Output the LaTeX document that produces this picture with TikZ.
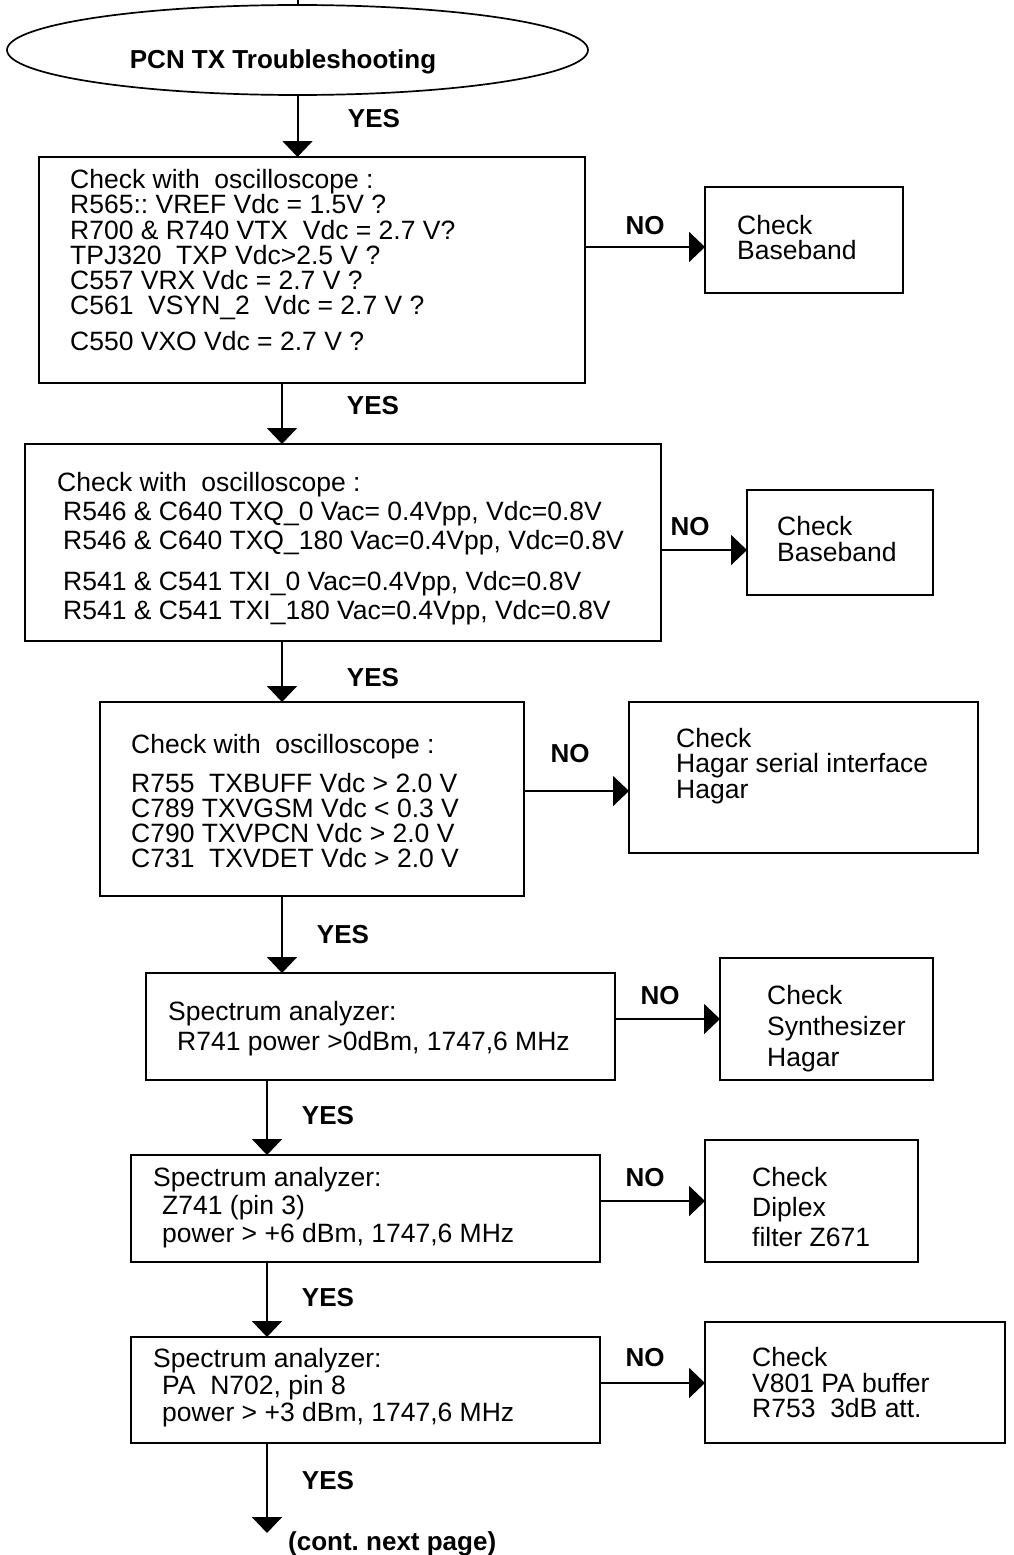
\documentclass[tikz,border=0pt]{standalone}
\usepackage{fontspec}
\setmainfont{Liberation Sans}
\usetikzlibrary{arrows.meta,shapes.geometric}
\frenchspacing
\begin{document}
\begin{tikzpicture}[x=1pt,y=-1pt,
  box/.style={draw, line width=2pt, rectangle, inner sep=0pt, outer sep=0pt, anchor=north west},
  txt/.style={anchor=base west, inner sep=0pt, font=\fontsize{26.5}{26.5}\selectfont},
  lbl/.style={anchor=base, inner sep=0pt, font=\fontsize{26}{26}\selectfont\bfseries},
  lblw/.style={anchor=base west, inner sep=0pt, font=\fontsize{26}{26}\selectfont\bfseries},
  arr/.style={line width=2pt, -{Triangle[width=30pt,length=16pt]}},
  wire/.style={line width=2pt}]
\useasboundingbox (0,0) rectangle (1013,1555);

% start ellipse
\node[draw, ellipse, line width=1.7pt, minimum width=581pt, minimum height=90pt,
      inner sep=0pt, outer sep=0pt] (start) at (297.5,50) {};
\node[lbl] (title) at (283,69) {PCN TX Troubleshooting};
\coordinate (top) at (297.5,0);
\draw[wire] (start.north) -- (top);

% main column of checks
\node[box, minimum width=546pt, minimum height=226pt] (b1) at (39,157) {};
\node[box, minimum width=636pt, minimum height=197pt] (b2) at (25,444) {};
\node[box, minimum width=424pt, minimum height=194pt] (b3) at (100,702) {};
\node[box, minimum width=469pt, minimum height=107pt] (b4) at (146,973) {};
\node[box, minimum width=469pt, minimum height=107pt] (b5) at (131,1155) {};
\node[box, minimum width=469pt, minimum height=106pt] (b6) at (131,1337) {};

% fault boxes on the right
\node[box, minimum width=198pt, minimum height=106pt] (r1) at (705,187) {};
\node[box, minimum width=186pt, minimum height=105pt] (r2) at (747,490) {};
\node[box, minimum width=349pt, minimum height=151pt] (r3) at (629,702) {};
\node[box, minimum width=213pt, minimum height=122pt] (r4) at (720,958) {};
\node[box, minimum width=213pt, minimum height=122pt] (r5) at (705,1140) {};
\node[box, minimum width=300pt, minimum height=121pt] (r6) at (705,1322) {};

% box texts
\node[txt] (b1a) at (70,188) {Check with\ \ oscilloscope :};
\node[txt] (b1b) at (70,213) {R565:: VREF Vdc = 1.5V ?};
\node[txt] (b1c) at (70,239) {R700 \& R740 VTX\ \ Vdc = 2.7 V?};
\node[txt] (b1d) at (70,264) {TPJ320\ \ TXP Vdc>2.5 V ?};
\node[txt] (b1e) at (70,289) {C557 VRX Vdc = 2.7 V ?};
\node[txt] (b1f) at (70,314) {C561\ \ VSYN\_2\ \ Vdc = 2.7 V ?};
\node[txt] (b1g) at (70,350) {C550 VXO Vdc = 2.7 V ?};

\node[txt] (b2a) at (57,491) {Check with\ \ oscilloscope :};
\node[txt] (b2b) at (63,520) {R546 \& C640 TXQ\_0 Vac= 0.4Vpp, Vdc=0.8V};
\node[txt] (b2c) at (63,549) {R546 \& C640 TXQ\_180 Vac=0.4Vpp, Vdc=0.8V};
\node[txt] (b2d) at (63,590) {R541 \& C541 TXI\_0 Vac=0.4Vpp, Vdc=0.8V};
\node[txt] (b2e) at (63,619) {R541 \& C541 TXI\_180 Vac=0.4Vpp, Vdc=0.8V};

\node[txt] (b3a) at (131,753) {Check with\ \ oscilloscope :};
\node[txt] (b3b) at (131,792) {R755\ \ TXBUFF Vdc > 2.0 V};
\node[txt] (b3c) at (131,817) {C789 TXVGSM Vdc < 0.3 V};
\node[txt] (b3d) at (131,842) {C790 TXVPCN Vdc > 2.0 V};
\node[txt] (b3e) at (131,867) {C731\ \ TXVDET Vdc > 2.0 V};

\node[txt] (b4a) at (168,1020) {Spectrum analyzer:};
\node[txt] (b4b) at (177,1050) {R741 power >0dBm, 1747,6 MHz};

\node[txt] (b5a) at (153,1186) {Spectrum analyzer:};
\node[txt] (b5b) at (162,1214) {Z741 (pin 3)};
\node[txt] (b5c) at (162,1242) {power > +6 dBm, 1747,6 MHz};

\node[txt] (b6a) at (153,1367) {Spectrum analyzer:};
\node[txt] (b6b) at (162,1394) {PA\ \ N702, pin 8};
\node[txt] (b6c) at (162,1421) {power > +3 dBm, 1747,6 MHz};

\node[txt] (r1a) at (737,234) {Check};
\node[txt] (r1b) at (737,259) {Baseband};
\node[txt] (r2a) at (777,535) {Check};
\node[txt] (r2b) at (777,561) {Baseband};
\node[txt] (r3a) at (676,747) {Check};
\node[txt] (r3b) at (676,772) {Hagar serial interface};
\node[txt] (r3c) at (676,798) {Hagar};
\node[txt] (r4a) at (767,1004) {Check};
\node[txt] (r4b) at (767,1035) {Synthesizer};
\node[txt] (r4c) at (767,1066) {Hagar};
\node[txt] (r5a) at (752,1186) {Check};
\node[txt] (r5b) at (752,1216) {Diplex};
\node[txt] (r5c) at (752,1246) {filter Z671};
\node[txt] (r6a) at (752,1366) {Check};
\node[txt] (r6b) at (752,1392) {V801 PA buffer};
\node[txt] (r6c) at (752,1417) {R753\ \ 3dB att.};

% YES path
\coordinate (xa) at (282,0);
\coordinate (xb) at (267,0);
\coordinate (cont) at (267,1533);
\draw[arr] (start.south) -- (start.south |- b1.north);
\draw[arr] (b1.south -| xa) -- (b2.north -| xa);
\draw[arr] (b2.south -| xa) -- (b3.north -| xa);
\draw[arr] (b3.south -| xa) -- (b4.north -| xa);
\draw[arr] (b4.south -| xb) -- (b5.north -| xb);
\draw[arr] (b5.south -| xb) -- (b6.north -| xb);
\draw[arr] (b6.south -| xb) -- (cont);

\node[lbl] (y1) at (374,127) {YES};
\node[lbl] (y2) at (373,414) {YES};
\node[lbl] (y3) at (373,686) {YES};
\node[lbl] (y4) at (343,943) {YES};
\node[lbl] (y5) at (328,1124) {YES};
\node[lbl] (y6) at (328,1306) {YES};
\node[lbl] (y7) at (328,1489) {YES};
\node[lblw] (next) at (288,1550) {(cont. next page)};

% NO branches
\coordinate (n1) at (0,247);
\coordinate (n2) at (0,550);
\coordinate (n3) at (0,791);
\coordinate (n4) at (0,1019);
\coordinate (n5) at (0,1201);
\coordinate (n6) at (0,1383);
\draw[arr] (b1.east |- n1) -- (r1.west |- n1);
\draw[arr] (b2.east |- n2) -- (r2.west |- n2);
\draw[arr] (b3.east |- n3) -- (r3.west |- n3);
\draw[arr] (b4.east |- n4) -- (r4.west |- n4);
\draw[arr] (b5.east |- n5) -- (r5.west |- n5);
\draw[arr] (b6.east |- n6) -- (r6.west |- n6);

\node[lbl] (no1) at (645,234) {NO};
\node[lbl] (no2) at (690,535) {NO};
\node[lbl] (no3) at (570,762) {NO};
\node[lbl] (no4) at (660,1004) {NO};
\node[lbl] (no5) at (645,1186) {NO};
\node[lbl] (no6) at (645,1366) {NO};
\end{tikzpicture}
\end{document}
